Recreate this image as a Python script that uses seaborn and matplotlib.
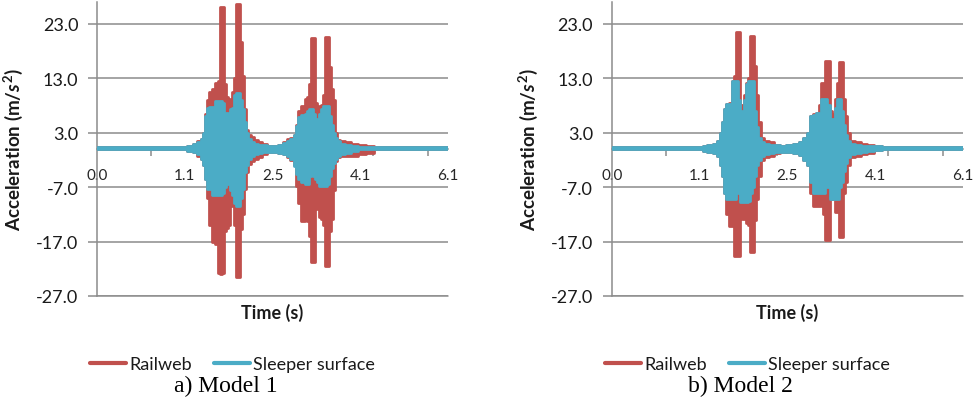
import numpy as np
import pandas as pd
import matplotlib
matplotlib.use("Agg")
import matplotlib.pyplot as plt
from matplotlib.lines import Line2D
import seaborn as sns

# ---------------- data ----------------
# x: sample index along the category axis (0..400); labels every 100 samples
tick_labels = ["0.0", "1.1", "2.5", "4.1", "6.1"]
series_names = ["Railweb", "Sleeper surface"]

# Model 1: envelope (upper / lower) of each acceleration signal
idx1 = [0, 60, 100, 106, 112, 116, 120, 122, 124, 126, 130, 133, 137, 139, 141, 144,
        146, 148, 150, 153, 155, 157, 160, 162, 164, 166, 169, 171, 173, 177, 181, 186,
        191, 197, 203, 209, 214, 219, 222, 226, 228, 231, 235, 238, 240, 243, 245, 247,
        250, 252, 254, 256, 259, 261, 263, 266, 268, 270, 272, 275, 279, 286, 294, 302,
        311, 320, 400]
rail1_up = [0.4, 0.4, 0.4, 0.6, 1.0, 1.4, 1.8, 3.0, 6.5, 9.0, 10.4, 11.0, 12.2, 12.5, 26.0, 26.0,
            12.0, 9.5, 8.5, 9.1, 10.5, 13.0, 26.6, 26.6, 19.6, 13.4, 7.3, 3.5, 2.5, 2.2, 1.6, 1.2,
            0.9, 0.6, 0.6, 0.8, 1.2, 1.8, 2.0, 2.5, 4.5, 7.0, 7.9, 9.1, 9.5, 12.0, 20.3, 20.3,
            8.5, 7.9, 7.5, 8.0, 10.0, 20.6, 20.6, 15.0, 11.0, 9.0, 3.0, 1.6, 1.4, 1.2, 0.9, 0.8,
            0.6, 0.4, 0.4]
rail1_lo = [0.0, 0.0, 0.0, -0.3, -0.6, -1.2, -1.8, -3.0, -5.5, -9.0, -14.0, -17.0, -17.5, -22.7, -23.0, -22.7,
            -15.0, -14.5, -14.0, -10.0, -10.4, -14.0, -23.6, -23.6, -14.7, -12.0, -7.4, -4.3, -2.8, -2.2, -1.8, -1.4,
            -1.0, -0.5, -0.5, -0.7, -1.0, -1.5, -2.0, -3.0, -6.8, -10.0, -13.2, -12.0, -13.2, -16.0, -20.8, -20.8,
            -10.4, -11.0, -12.5, -12.9, -14.0, -21.4, -21.4, -15.0, -12.9, -7.5, -2.2, -1.5, -1.3, -1.3, -1.2, -1.0,
            -0.7, 0.0, 0.0]
sleeper1_up = [0.4, 0.4, 0.4, 0.6, 0.9, 1.2, 1.8, 3.0, 6.0, 7.5, 7.7, 7.8, 8.9, 8.9, 8.9, 8.5,
               6.7, 6.7, 6.4, 7.4, 7.5, 10.0, 10.2, 10.2, 9.0, 7.3, 5.0, 3.0, 1.8, 1.2, 0.9, 0.8,
               0.7, 0.6, 0.6, 0.8, 1.1, 1.5, 1.9, 2.5, 4.2, 5.8, 6.2, 6.4, 7.0, 7.3, 7.3, 6.5,
               5.0, 5.5, 6.5, 7.3, 7.9, 7.9, 7.9, 6.1, 4.5, 3.0, 2.0, 1.5, 1.0, 0.8, 0.6, 0.4,
               0.4, 0.4, 0.4]
sleeper1_lo = [0.0, 0.0, 0.0, -0.3, -0.6, -1.0, -1.8, -3.0, -5.5, -7.4, -7.4, -8.5, -8.5, -8.5, -8.5, -8.0,
               -7.0, -6.5, -6.5, -7.5, -8.5, -10.0, -10.4, -10.4, -9.0, -7.4, -4.3, -3.0, -1.9, -1.3, -0.9, -0.7,
               -0.6, -0.5, -0.5, -0.7, -0.9, -1.3, -1.9, -3.1, -4.5, -5.5, -6.0, -6.4, -6.4, -5.0, -4.3, -5.0,
               -5.5, -6.0, -6.8, -6.8, -6.8, -6.8, -6.5, -5.0, -3.5, -2.5, -1.8, -1.3, -1.0, -0.7, -0.4, 0.0,
               0.0, 0.0, 0.0]

# Model 2
idx2 = [0, 101, 106, 112, 118, 122, 125, 127, 129, 131, 135, 138, 141, 143, 145, 147,
        150, 152, 154, 156, 159, 161, 163, 166, 168, 171, 176, 182, 188, 195, 203, 210,
        216, 220, 224, 227, 231, 234, 237, 240, 242, 244, 247, 249, 252, 256, 258, 260,
        262, 265, 267, 269, 273, 280, 288, 294, 304, 312, 400]
rail2_up = [0.4, 0.4, 0.6, 0.8, 1.0, 1.5, 3.0, 5.0, 7.3, 8.2, 8.5, 12.5, 13.4, 21.4, 21.4, 8.0,
            8.0, 10.0, 12.2, 13.0, 20.8, 20.8, 15.2, 10.0, 5.0, 2.0, 1.5, 1.2, 0.8, 0.6, 0.7, 0.9,
            1.2, 2.0, 3.0, 6.1, 6.5, 6.7, 8.0, 12.2, 12.2, 16.2, 16.2, 7.0, 6.5, 9.1, 12.2, 15.9,
            15.9, 9.1, 6.0, 3.0, 1.5, 1.2, 1.0, 0.7, 0.5, 0.4, 0.4]
rail2_lo = [0.0, 0.0, -0.3, -0.5, -0.8, -1.3, -3.0, -5.0, -8.0, -12.0, -14.1, -14.1, -19.6, -19.6, -19.6, -11.6,
            -12.9, -12.9, -13.5, -14.0, -19.0, -19.0, -13.0, -9.2, -5.0, -2.0, -1.5, -1.2, -0.8, -0.5, -0.6, -0.8,
            -1.1, -2.0, -3.0, -8.0, -10.4, -10.4, -10.4, -9.2, -12.0, -16.8, -16.8, -9.2, -9.2, -11.6, -11.6, -16.2,
            -16.2, -8.0, -6.0, -3.0, -1.5, -1.2, -1.0, -0.7, -0.2, 0.0, 0.0]
sleeper2_up = [0.4, 0.4, 0.6, 0.8, 1.0, 1.5, 3.0, 5.0, 7.3, 8.2, 8.2, 12.5, 12.5, 12.5, 9.0, 7.0,
               7.0, 9.0, 12.0, 12.5, 12.5, 12.5, 7.0, 4.0, 2.0, 1.3, 1.0, 0.8, 0.7, 0.6, 0.7, 0.9,
               1.2, 2.0, 3.0, 6.1, 6.3, 6.7, 6.7, 9.1, 9.1, 9.1, 8.0, 5.5, 5.5, 7.5, 9.1, 9.1,
               7.0, 4.5, 2.5, 1.5, 1.0, 0.8, 0.6, 0.5, 0.5, 0.4, 0.4]
sleeper2_lo = [0.0, 0.0, -0.3, -0.5, -0.8, -1.3, -3.0, -5.0, -8.0, -9.2, -9.2, -9.2, -9.2, -8.0, -7.0, -9.8,
               -9.8, -9.8, -9.8, -9.5, -8.0, -7.0, -5.0, -3.0, -2.0, -1.2, -1.0, -0.8, -0.6, -0.5, -0.6, -0.8,
               -1.1, -2.0, -3.0, -6.0, -8.0, -8.0, -8.0, -8.0, -8.0, -7.0, -7.0, -9.2, -9.2, -9.2, -9.2, -7.0,
               -6.0, -4.0, -2.5, -1.5, -1.0, -0.8, -0.5, -0.3, -0.2, 0.0, 0.0]

panels = [
    ("a) Model 1", idx1, (rail1_up, rail1_lo), (sleeper1_up, sleeper1_lo)),
    ("b) Model 2", idx2, (rail2_up, rail2_lo), (sleeper2_up, sleeper2_lo)),
]

# ---------------- style ----------------
sns.set_theme(style="white")
plt.rcParams["font.family"] = ["Lato", "DejaVu Sans"]
plt.rcParams["mathtext.fontset"] = "custom"
plt.rcParams["mathtext.rm"] = "Lato:bold"
plt.rcParams["mathtext.it"] = "Lato:italic:bold"
plt.rcParams["mathtext.bf"] = "Lato:bold"

RED = "#C0504D"
BLUE = "#4BACC6"
GRID = "#8C8C8C"
TXT = "#1a1a1a"
FS = 13

W, H = 978, 402
fig = plt.figure(figsize=(W / 100, H / 100), dpi=100)

axes_px = [(97, 351), (611.7, 351.3)]
top_px, bot_px = 3, 297

for (caption, idx, rail, sleeper), (x0, w) in zip(panels, axes_px):
    ax = fig.add_axes([x0 / W, 1 - bot_px / H, w / W, (bot_px - top_px) / H])
    for (up, lo), col in ((rail, RED), (sleeper, BLUE)):
        df = pd.DataFrame({"t": idx, "up": up, "lo": lo})
        ax.fill_between(df["t"], df["lo"], df["up"], step="mid", color=col, lw=0, zorder=3)
        sns.lineplot(data=df, x="t", y="up", ax=ax, color=col, lw=2.0,
                     drawstyle="steps-mid", estimator=None, legend=False, zorder=3)
        sns.lineplot(data=df, x="t", y="lo", ax=ax, color=col, lw=2.0,
                     drawstyle="steps-mid", estimator=None, legend=False, zorder=3)

    ax.set_xlim(0, 400)
    ax.set_ylim(-27, 27)
    yt = [-27, -17, -7, 3, 13, 23]
    ax.set_yticks(yt)
    ax.set_yticklabels([f"{v:.1f}" for v in yt], fontsize=FS, color=TXT)
    ax.set_xticks([0, 100, 200, 300, 400])
    ax.set_xticklabels(tick_labels, fontsize=FS, color=TXT)
    ax.set_xticks([61.5, 124.7, 188, 251.2, 314.5, 377.7], minor=True)

    ax.grid(axis="y", color=GRID, lw=1.1, zorder=0)
    ax.grid(axis="x", visible=False)
    ax.axhline(-27, color=GRID, lw=1.1, clip_on=False, zorder=1)

    for s in ("top", "right"):
        ax.spines[s].set_visible(False)
    ax.spines["left"].set_color(GRID)
    ax.spines["left"].set_linewidth(1.1)
    ax.spines["bottom"].set_position(("data", 0))
    ax.spines["bottom"].set_color(GRID)
    ax.spines["bottom"].set_linewidth(1.1)
    ax.spines["bottom"].set_zorder(1)

    ax.tick_params(axis="y", which="major", direction="out", length=6.5, width=1.1,
                   color=GRID, pad=7, left=True)
    ax.tick_params(axis="x", which="major", length=0, pad=14, bottom=True)
    ax.tick_params(axis="x", which="minor", direction="out", length=5, width=1.1,
                   color=GRID, bottom=True)

    ax.set_xlabel("")
    ax.set_ylabel(r"Acceleration (m/$s^2$)", fontsize=13.5, fontweight="bold", color=TXT)
    ax.yaxis.set_label_coords(-0.205, 0.5)

    cx = (x0 + w / 2) / W
    fig.text(cx, 1 - 313 / H, "Time (s)", ha="center", va="center",
             fontsize=13, fontweight="bold", color=TXT)

    handles = [Line2D([], [], color=RED, lw=3.0), Line2D([], [], color=BLUE, lw=3.0)]
    leg_cx = (x0 + w / 2 - 40) / W
    fig.legend(handles, series_names, loc="center", bbox_to_anchor=(leg_cx, 1 - 365 / H),
               ncol=2, frameon=False, fontsize=13, handlelength=2.0, handletextpad=0.2,
               columnspacing=1.2, labelcolor=TXT)

    cap_cx = (x0 + w / 2 - 47) / W
    fig.text(cap_cx, 1 - 386 / H, caption, ha="center", va="center",
             fontsize=17, family=["Liberation Serif", "DejaVu Serif"], color="black")

fig.savefig("out.png", dpi=100, facecolor="white")
